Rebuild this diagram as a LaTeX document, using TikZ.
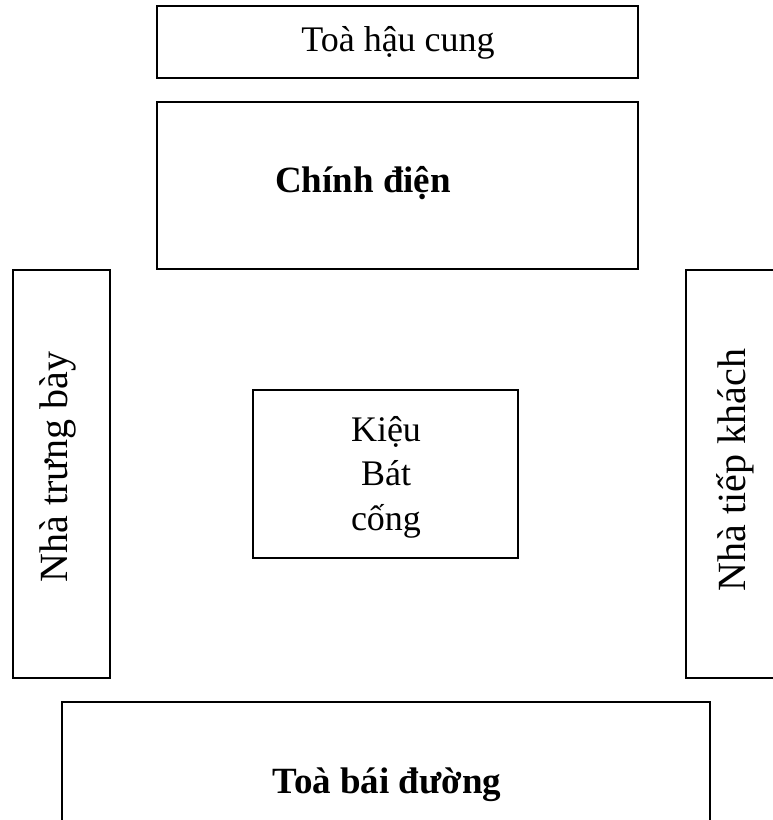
\documentclass[tikz,border=0pt]{standalone}
\usepackage{fontspec}
\setmainfont{Liberation Serif}
\begin{document}
\begin{tikzpicture}[x=1pt,y=-1pt,
  box/.style={draw=black,line width=2pt,inner sep=0pt,outer sep=0pt},
  lbl/.style={inner sep=0pt,font=\fontsize{36pt}{44.5pt}\selectfont},
  vlbl/.style={inner sep=0pt,rotate=90,font=\fontsize{40pt}{48pt}\selectfont},
  blbl/.style={inner sep=0pt,font=\fontsize{37pt}{44.5pt}\selectfont\bfseries}]
\useasboundingbox (0,0) rectangle (773,820);
\clip (0,0) rectangle (773,820);
% boxes
\node[box,minimum width=481pt,minimum height=72pt] (hau) at (397.5,42) {};
\node[box,minimum width=481pt,minimum height=167pt] (chinh) at (397.5,185.5) {};
\node[box,minimum width=97pt,minimum height=408pt] (trung) at (61.5,474) {};
\node[box,minimum width=265pt,minimum height=168pt] (kieu) at (385.5,474) {};
\node[box,minimum width=97pt,minimum height=408pt] (tiep) at (734.5,474) {};
\node[box,minimum width=648pt,minimum height=156pt] (bai) at (386,780) {};
% labels
\node[lbl,anchor=base] (thau) at (398,51) {Toà hậu cung};
\node[blbl,anchor=base] (tchinh) at (363,192) {Chính điện};
\node[blbl,anchor=base] (tbai) at (387,793) {Toà bái đường};
\node[lbl,align=center] (tkieu) at (386,477) {Kiệu\\Bát\\cống};
\node[vlbl] (ttrung) at (58,467) {Nhà trưng bày};
\node[vlbl] (ttiep) at (735,470) {Nhà tiếp khách};
\end{tikzpicture}
\end{document}
